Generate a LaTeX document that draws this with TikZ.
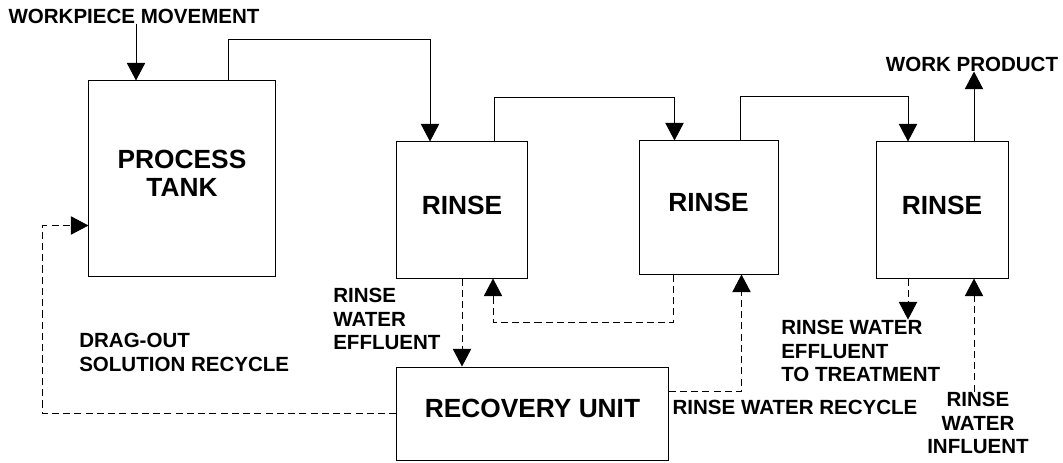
\documentclass[tikz,border=0pt]{standalone}
\usepackage{fontspec}
\setmainfont{Liberation Sans}
\usepackage{tikz}
\usetikzlibrary{arrows.meta,positioning,calc}
\tikzset{
  blk/.style={draw,line width=0.7pt,inner sep=0pt,align=center,text depth=0.25cm,font=\fontsize{18.7}{20}\selectfont\bfseries},
  lbl/.style={inner sep=0pt,font=\fontsize{14.6}{17}\selectfont\bfseries},
  flow/.style={line width=0.7pt,-{Triangle[length=12.5pt,width=13pt]}},
  ret/.style={flow,dash pattern=on 5pt off 3pt},
}
\begin{document}
\begin{tikzpicture}[x=0.025cm,y=-0.025cm]
  \useasboundingbox (0,0) rectangle (1063,462);
  % tanks
  \node[blk,minimum width=4.65cm,minimum height=4.875cm] (tank) at (182,178.5) {PROCESS\\TANK};
  \foreach \n/\x/\y/\w/\h in {r1/462/210/3.25/3.4, r2/708.5/207.5/3.475/3.325, r3/942/210/3.3/3.4}{
    \node[blk,minimum width=\w cm,minimum height=\h cm] (\n) at (\x,\y) {RINSE};
  }
  \node[blk,minimum width=6.775cm,minimum height=2.325cm] (rec) at (532.5,413.5) {RECOVERY UNIT};
  % labels
  \node[lbl] (wpm) at (134,16) {WORKPIECE MOVEMENT};
  \node[lbl] (wpr) at (972,64) {WORK PRODUCT};
  \node[lbl,align=left,anchor=west] (eff1) at (333,319) {RINSE\\WATER\\EFFLUENT};
  \node[lbl,align=left,anchor=west] (drag) at (79,352) {DRAG-OUT\\SOLUTION RECYCLE};
  \node[lbl] (rcy) at (795,407) {RINSE WATER RECYCLE};
  \node[lbl,align=left,anchor=west] (eff3) at (781,351) {RINSE WATER\\EFFLUENT\\TO TREATMENT};
  \node[lbl,align=center] (inf) at (978,423) {RINSE\\WATER\\INFLUENT};
  \coordinate (tin) at ($(tank.north)+(-46,0)$);
  \coordinate (r3out) at ($(r3.north)+(32,0)$);
  \coordinate (r3eff) at ($(r3.south)+(-34,0)$);
  \coordinate (r3inf) at ($(r3.south)+(32,0)$);
  % work flow
  \draw[flow] (tin |- wpm.south) -- (tin);
  \draw[flow] ($(tank.north)+(46,0)$) -- ++(0,-41) -| ($(r1.north)+(-32,0)$);
  \foreach \a/\b in {r1/r2, r2/r3}{
    \draw[flow] ($(\a.north)+(32,0)$) -- ++(0,-44) -| ($(\b.north)+(-34,0)$);
  }
  \draw[flow] (r3out) -- (r3out |- wpr.south);
  % water flow
  \draw[ret] (r1.south) -- (r1.south |- rec.north);
  \draw[ret] ($(r2.south)+(-35,0)$) -- ++(0,48) -| ($(r1.south)+(31,0)$);
  \draw[ret] ($(rec.east)+(0,-22)$) -| ($(r2.south)+(33,0)$);
  \draw[ret] (rec.west) -- ++(-354,0) |- ($(tank.west)+(0,47)$);
  \draw[ret] (r3eff) -- (r3eff |- eff3.north);
  \draw[ret] (r3inf |- inf.north) -- (r3inf);
\end{tikzpicture}
\end{document}
